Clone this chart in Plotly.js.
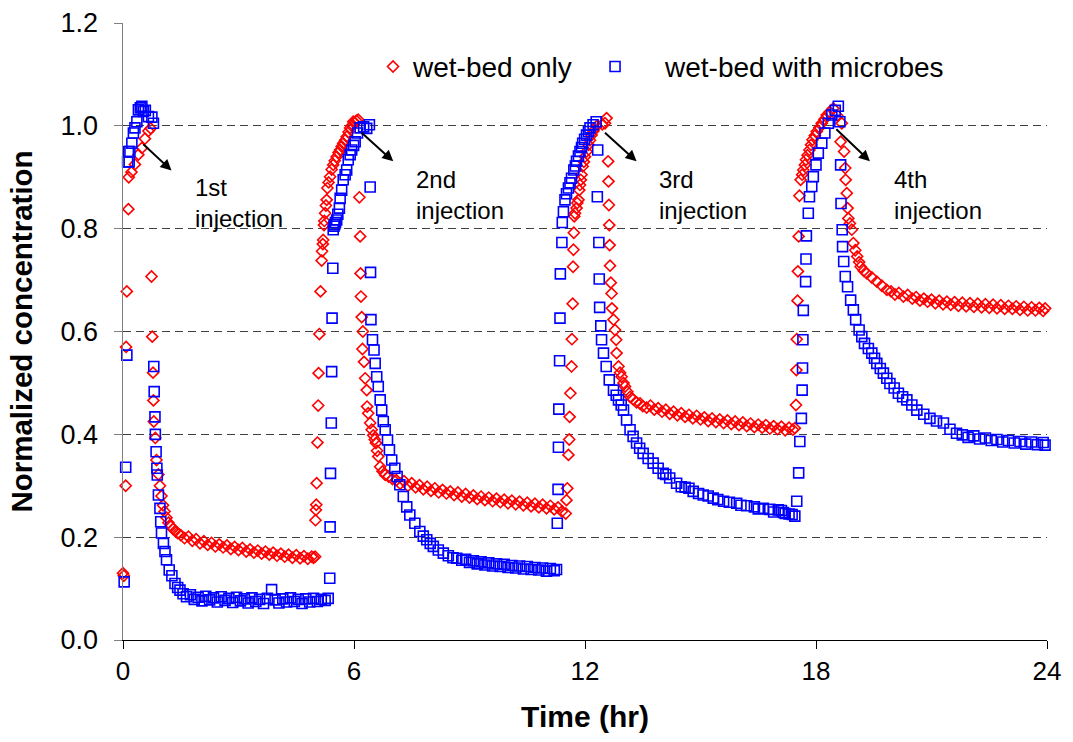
<!DOCTYPE html>
<html>
<head>
<meta charset="utf-8">
<script src="https://cdn.plot.ly/plotly-3.0.1.min.js"></script>
<style>
  html, body { margin: 0; padding: 0; background: #fff; }
  #chart { width: 1073px; height: 742px; }
</style>
</head>
<body>
<div id="chart"></div>
<script>
// ---------- DATA ----------
const seriesNames = ['wet-bed only', 'wet-bed with microbes'];

// wet-bed only (red open diamonds): time in hr
const wetBedTime = [
  0.00, 0.02, 0.07, 0.08, 0.10, 0.14, 0.15, 0.22, 0.31, 0.40, 0.49, 0.57, 0.66, 0.72,
  0.74, 0.76, 0.78, 0.79, 0.80, 0.84, 0.87, 0.92, 0.96, 1.00, 1.04, 1.08, 1.13, 1.18, 1.24, 1.30, 1.36, 1.42,
  1.5, 1.6, 1.7, 1.8, 1.9, 2.0, 2.1, 2.2, 2.3, 2.4, 2.5, 2.6, 2.7, 2.8, 2.9, 3.0, 3.1, 3.2, 3.3, 3.4, 3.5, 3.6, 3.7, 3.8, 3.9, 4.0, 4.1, 4.2, 4.3, 4.4, 4.5, 4.6, 4.7, 4.8, 4.9, 4.95,
  4.99, 5.00, 5.01, 5.02, 5.03, 5.05, 5.07, 5.08, 5.10, 5.13, 5.16, 5.17, 5.19, 5.20, 5.22, 5.23, 5.25, 5.27, 5.29, 5.31, 5.34, 5.38, 5.42, 5.46, 5.50, 5.55, 5.60, 5.64, 5.68, 5.72, 5.77, 5.81, 5.86, 5.90, 5.94, 5.98, 6.02, 6.06, 6.11,
  6.14, 6.16, 6.17, 6.18, 6.20, 6.22, 6.23, 6.26, 6.29, 6.33, 6.34, 6.37, 6.42, 6.46, 6.50, 6.54, 6.57, 6.60, 6.63, 6.68, 6.74, 6.81, 6.90, 7.00, 7.10,
  7.2, 7.3, 7.4, 7.5, 7.6, 7.7, 7.8, 7.9, 8.0, 8.1, 8.2, 8.3, 8.4, 8.5, 8.6, 8.7, 8.8, 8.9, 9.0, 9.1, 9.2, 9.3, 9.4, 9.5, 9.6, 9.7, 9.8, 9.9, 10.0, 10.1, 10.2, 10.3, 10.4, 10.5, 10.6, 10.7, 10.8, 10.9, 11.0, 11.1, 11.2, 11.3, 11.4, 11.5,
  11.52, 11.54, 11.57, 11.59, 11.60, 11.62, 11.65, 11.66, 11.68, 11.69, 11.70, 11.71, 11.72, 11.74, 11.78, 11.80, 11.83, 11.85, 11.87, 11.89, 11.91, 11.94, 11.97, 12.00, 12.04, 12.09, 12.13, 12.17, 12.22, 12.30, 12.45, 12.52, 12.56,
  12.60, 12.61, 12.62, 12.63, 12.64, 12.65, 12.67, 12.69, 12.70, 12.74, 12.78, 12.81, 12.82, 12.87, 12.91, 12.95, 13.00, 13.04, 13.10, 13.17, 13.25, 13.34, 13.43,
  13.5, 13.6, 13.7, 13.8, 13.9, 14.0, 14.1, 14.2, 14.3, 14.4, 14.5, 14.6, 14.7, 14.8, 14.9, 15.0, 15.1, 15.2, 15.3, 15.4, 15.5, 15.6, 15.7, 15.8, 15.9, 16.0, 16.1, 16.2, 16.3, 16.4, 16.5, 16.6, 16.7, 16.8, 16.9, 17.0, 17.1, 17.2, 17.3, 17.4, 17.45,
  17.48, 17.49, 17.50, 17.52, 17.53, 17.55, 17.57, 17.60, 17.64, 17.67, 17.71, 17.74, 17.78, 17.83, 17.87, 17.91, 17.97, 18.02, 18.09, 18.15, 18.22, 18.28, 18.36, 18.45,
  18.55, 18.64, 18.67, 18.73, 18.76, 18.77, 18.80, 18.82, 18.84, 18.88, 18.93, 18.97, 19.02, 19.07, 19.12, 19.16, 19.24, 19.32, 19.45, 19.58, 19.71, 19.84,
  19.95, 20.05, 20.15, 20.27, 20.38, 20.5, 20.6, 20.7, 20.8, 20.9, 21.0, 21.1, 21.2, 21.3, 21.4, 21.5, 21.6, 21.7, 21.8, 21.9, 22.0, 22.1, 22.2, 22.3, 22.4, 22.5, 22.6, 22.7, 22.8, 22.9, 23.0, 23.1, 23.2, 23.3, 23.4, 23.5, 23.6, 23.7, 23.8, 23.9, 23.95
];
// wet-bed only: normalized concentration
const wetBedConc = [
  0.130, 0.125, 0.300, 0.570, 0.678, 0.838, 0.900, 0.910, 0.925, 0.944, 0.957, 0.975, 0.990, 0.995,
  0.707, 0.590, 0.520, 0.466, 0.425, 0.393, 0.350, 0.322, 0.300, 0.280, 0.262, 0.250, 0.238, 0.228, 0.221, 0.216, 0.212, 0.208,
  0.204, 0.198, 0.201, 0.193, 0.196, 0.188, 0.192, 0.185, 0.189, 0.182, 0.186, 0.180, 0.184, 0.177, 0.181, 0.175, 0.179, 0.172, 0.176, 0.170, 0.174, 0.168, 0.172, 0.166, 0.170, 0.164, 0.168, 0.162, 0.166, 0.160, 0.165, 0.159, 0.163, 0.158, 0.162, 0.160,
  0.162, 0.233, 0.253, 0.263, 0.305, 0.384, 0.456, 0.519, 0.595, 0.678, 0.738, 0.756, 0.770, 0.778, 0.807, 0.815, 0.830, 0.845, 0.856, 0.879, 0.890, 0.901, 0.915, 0.924, 0.932, 0.940, 0.948, 0.953, 0.960, 0.966, 0.972, 0.979, 0.988, 0.996, 1.000, 1.008, 1.006, 1.010, 1.012,
  0.861, 0.785, 0.713, 0.668, 0.628, 0.566, 0.600, 0.541, 0.509, 0.486, 0.454, 0.441, 0.422, 0.409, 0.398, 0.390, 0.383, 0.368, 0.357, 0.337, 0.328, 0.321, 0.318, 0.313, 0.311,
  0.304, 0.309, 0.300, 0.305, 0.297, 0.301, 0.293, 0.298, 0.290, 0.295, 0.287, 0.292, 0.285, 0.289, 0.282, 0.287, 0.279, 0.284, 0.277, 0.281, 0.274, 0.279, 0.272, 0.277, 0.270, 0.275, 0.268, 0.273, 0.266, 0.271, 0.264, 0.269, 0.262, 0.267, 0.260, 0.265, 0.258, 0.263, 0.256, 0.261, 0.254, 0.258, 0.250, 0.246,
  0.272, 0.295, 0.360, 0.390, 0.434, 0.480, 0.532, 0.585, 0.654, 0.726, 0.759, 0.792, 0.824, 0.830, 0.840, 0.850, 0.856, 0.875, 0.885, 0.895, 0.905, 0.921, 0.930, 0.940, 0.950, 0.963, 0.972, 0.982, 0.990, 0.999, 1.003, 1.005, 1.015,
  0.931, 0.892, 0.846, 0.807, 0.768, 0.728, 0.695, 0.674, 0.645, 0.623, 0.603, 0.584, 0.558, 0.532, 0.520, 0.512, 0.500, 0.493, 0.483, 0.473, 0.468, 0.462, 0.460,
  0.455, 0.452, 0.456, 0.448, 0.451, 0.444, 0.448, 0.440, 0.444, 0.437, 0.441, 0.434, 0.438, 0.431, 0.436, 0.429, 0.433, 0.426, 0.431, 0.424, 0.429, 0.422, 0.427, 0.420, 0.425, 0.418, 0.423, 0.416, 0.421, 0.414, 0.419, 0.413, 0.418, 0.411, 0.416, 0.410, 0.415, 0.408, 0.413, 0.409, 0.412,
  0.457, 0.525, 0.585, 0.660, 0.717, 0.785, 0.864, 0.895, 0.905, 0.914, 0.924, 0.934, 0.943, 0.953, 0.963, 0.973, 0.981, 0.989, 0.997, 1.005, 1.013, 1.021, 1.027, 1.034,
  1.020, 0.969, 1.005, 0.950, 0.918, 0.895, 0.869, 0.840, 0.820, 0.810, 0.798, 0.772, 0.758, 0.746, 0.735, 0.726, 0.718, 0.713, 0.705, 0.697, 0.689, 0.681,
  0.678, 0.672, 0.675, 0.668, 0.671, 0.664, 0.667, 0.660, 0.664, 0.658, 0.662, 0.655, 0.660, 0.653, 0.658, 0.652, 0.657, 0.650, 0.656, 0.649, 0.655, 0.648, 0.654, 0.647, 0.653, 0.646, 0.652, 0.645, 0.651, 0.644, 0.650, 0.644, 0.649, 0.642, 0.648, 0.641, 0.647, 0.641, 0.646, 0.640, 0.645
];

// wet-bed with microbes (blue open squares): time in hr
const microbesTime = [
  0.03, 0.07, 0.10, 0.12, 0.14, 0.16, 0.18, 0.23, 0.27, 0.31, 0.36, 0.40, 0.45, 0.49, 0.53, 0.58, 0.66, 0.75, 0.79,
  0.80, 0.81, 0.83, 0.84, 0.86, 0.88, 0.89, 0.92, 0.96, 0.98, 1.00, 1.05, 1.09, 1.13, 1.20, 1.27, 1.35, 1.42, 1.48, 1.56, 1.65,
  1.75, 1.85, 1.95, 2.05, 2.15, 2.25, 2.35, 2.45, 2.55, 2.65, 2.75, 2.85, 2.95, 3.05, 3.15, 3.25, 3.35, 3.45, 3.55, 3.65, 3.75, 3.86, 3.95, 4.05, 4.15, 4.25, 4.35, 4.45, 4.55, 4.65, 4.75, 4.85, 4.95, 5.05, 5.15, 5.25, 5.33,
  5.37, 5.38, 5.39, 5.41, 5.42, 5.43, 5.45, 5.46, 5.48, 5.50, 5.52, 5.55, 5.58, 5.62, 5.64, 5.68, 5.72, 5.77, 5.81, 5.85, 5.90, 5.94, 5.99, 6.03, 6.09, 6.16, 6.25, 6.33, 6.40,
  6.42, 6.43, 6.44, 6.48, 6.52, 6.55, 6.59, 6.63, 6.68, 6.72, 6.76, 6.81, 6.87, 6.92, 6.98, 7.06, 7.12, 7.19, 7.28, 7.37, 7.45, 7.58, 7.71, 7.80, 7.89, 7.98, 8.06, 8.19, 8.32, 8.45, 8.57, 8.67, 8.80, 8.90,
  9.0, 9.1, 9.2, 9.3, 9.4, 9.5, 9.6, 9.7, 9.8, 9.9, 10.0, 10.1, 10.2, 10.3, 10.4, 10.5, 10.6, 10.7, 10.8, 10.9, 11.0, 11.1, 11.2, 11.26,
  11.28, 11.30, 11.31, 11.32, 11.34, 11.35, 11.36, 11.40, 11.41, 11.44, 11.48, 11.52, 11.57, 11.61, 11.65, 11.71, 11.75, 11.78, 11.83, 11.87, 11.91, 11.94, 11.99, 12.04, 12.09, 12.13, 12.21, 12.29,
  12.32, 12.33, 12.36, 12.37, 12.38, 12.41, 12.43, 12.48, 12.55, 12.63, 12.74, 12.81, 12.87, 12.94, 13.00, 13.08, 13.17, 13.25, 13.34, 13.42, 13.51, 13.64, 13.77, 13.90, 14.03, 14.10, 14.20, 14.38, 14.50, 14.60, 14.70, 14.81, 14.95, 15.07, 15.20, 15.33, 15.45, 15.60, 15.75, 15.94, 16.05, 16.20, 16.40, 16.50, 16.63, 16.80, 16.90, 17.02, 17.10, 17.15, 17.20, 17.30, 17.38, 17.45,
  17.50, 17.55, 17.58, 17.62, 17.64, 17.65, 17.66, 17.67, 17.73, 17.74, 17.75, 17.80, 17.83, 17.89, 17.93, 18.00, 18.06, 18.15, 18.23, 18.32, 18.41, 18.50, 18.58, 18.62,
  18.64, 18.65, 18.68, 18.69, 18.72, 18.76, 18.82, 18.90, 18.97, 19.03, 19.12, 19.19, 19.26, 19.36, 19.45, 19.52, 19.58, 19.67, 19.75, 19.84, 19.92, 20.03, 20.14, 20.25, 20.36, 20.49, 20.62, 20.80, 20.96, 21.13, 21.31, 21.48, 21.65, 21.80, 21.95, 22.10, 22.25, 22.40, 22.55, 22.70, 22.85, 23.00, 23.15, 23.30, 23.45, 23.60, 23.75, 23.90, 23.95
];
// wet-bed with microbes: normalized concentration
const microbesConc = [
  0.113, 0.336, 0.554, 0.930, 0.950, 0.930, 0.950, 0.966, 0.986, 0.996, 1.008, 1.031, 1.035, 1.038, 1.028, 1.030, 1.018, 1.017, 1.005,
  0.532, 0.483, 0.434, 0.400, 0.366, 0.334, 0.321, 0.282, 0.256, 0.230, 0.208, 0.188, 0.172, 0.156, 0.136, 0.125, 0.110, 0.102, 0.097, 0.090, 0.084,
  0.088, 0.079, 0.083, 0.076, 0.085, 0.078, 0.082, 0.074, 0.084, 0.077, 0.081, 0.073, 0.083, 0.076, 0.080, 0.072, 0.082, 0.075, 0.079, 0.071, 0.081, 0.098, 0.078, 0.072, 0.080, 0.074, 0.082, 0.075, 0.079, 0.071, 0.080, 0.074, 0.081, 0.075, 0.079, 0.077, 0.081,
  0.120, 0.220, 0.324, 0.422, 0.522, 0.626, 0.723, 0.798, 0.805, 0.808, 0.812, 0.817, 0.828, 0.840, 0.859, 0.875, 0.895, 0.905, 0.914, 0.934, 0.944, 0.953, 0.962, 0.969, 0.986, 0.996, 0.998, 0.995, 1.002,
  0.881, 0.715, 0.623, 0.584, 0.564, 0.538, 0.512, 0.493, 0.467, 0.447, 0.425, 0.409, 0.389, 0.370, 0.350, 0.334, 0.318, 0.302, 0.279, 0.259, 0.243, 0.227, 0.211, 0.202, 0.195, 0.188, 0.182, 0.175, 0.169, 0.164, 0.160, 0.159, 0.155, 0.157,
  0.151, 0.154, 0.148, 0.152, 0.146, 0.150, 0.144, 0.148, 0.143, 0.147, 0.141, 0.145, 0.140, 0.144, 0.138, 0.143, 0.137, 0.141, 0.136, 0.140, 0.134, 0.139, 0.135, 0.137,
  0.227, 0.293, 0.375, 0.449, 0.543, 0.626, 0.712, 0.773, 0.812, 0.833, 0.856, 0.868, 0.879, 0.889, 0.898, 0.914, 0.922, 0.931, 0.941, 0.950, 0.958, 0.966, 0.974, 0.982, 0.989, 0.996, 1.002, 1.008,
  0.862, 0.953, 0.773, 0.702, 0.647, 0.611, 0.584, 0.558, 0.532, 0.506, 0.486, 0.476, 0.467, 0.457, 0.447, 0.428, 0.409, 0.396, 0.383, 0.373, 0.363, 0.353, 0.344, 0.334, 0.324, 0.322, 0.315, 0.305, 0.298, 0.297, 0.295, 0.289, 0.285, 0.282, 0.280, 0.276, 0.273, 0.270, 0.268, 0.266, 0.262, 0.261, 0.259, 0.255, 0.256, 0.254, 0.249, 0.253, 0.252, 0.248, 0.246, 0.245, 0.244, 0.241,
  0.270, 0.325, 0.386, 0.431, 0.486, 0.529, 0.584, 0.641, 0.697, 0.741, 0.786, 0.830, 0.862, 0.882, 0.901, 0.924, 0.947, 0.966, 0.986, 1.005, 1.021, 1.030, 1.038, 1.008,
  0.924, 0.849, 0.798, 0.765, 0.736, 0.707, 0.687, 0.661, 0.642, 0.623, 0.603, 0.590, 0.577, 0.567, 0.558, 0.548, 0.538, 0.528, 0.519, 0.509, 0.499, 0.490, 0.480, 0.473, 0.467, 0.457, 0.447, 0.439, 0.431, 0.426, 0.422, 0.410, 0.402, 0.399, 0.394, 0.397, 0.391, 0.393, 0.388, 0.390, 0.385, 0.388, 0.383, 0.386, 0.381, 0.385, 0.380, 0.384, 0.379
];

// axis ticks
const xTickVals = [0, 6, 12, 18, 24];
const xTickText = ['0', '6', '12', '18', '24'];
const yTickVals = [0, 0.2, 0.4, 0.6, 0.8, 1.0, 1.2];
const yTickText = ['0.0', '0.2', '0.4', '0.6', '0.8', '1.0', '1.2'];

// injection labels: text, arrow tail (t, c), arrow head (t, c), label left/middle (t, c)
const injectionLabels = ['1st<br>injection', '2nd<br>injection', '3rd<br>injection', '4th<br>injection'];
const arrowTailT = [0.49, 6.16, 12.48, 18.49];
const arrowTailC = [0.967, 0.989, 0.989, 0.996];
const arrowHeadT = [1.26, 7.02, 13.34, 19.40];
const arrowHeadC = [0.913, 0.931, 0.931, 0.931];
const labelT = [1.82, 7.55, 13.87, 19.97];
const labelC = [0.850, 0.866, 0.866, 0.866];

// ---------- CHART ----------
const FONT = 'Liberation Sans, Arial, Helvetica, sans-serif';

const traces = [
  {
    type: 'scatter', mode: 'markers', name: seriesNames[0],
    x: wetBedTime, y: wetBedConc, cliponaxis: false, legend: 'legend',
    marker: { symbol: 'diamond-open', size: 8.5, color: '#FF0000', line: { width: 1.6, color: '#FF0000' } }
  },
  {
    type: 'scatter', mode: 'markers', name: seriesNames[1],
    x: microbesTime, y: microbesConc, cliponaxis: false, legend: 'legend2',
    marker: { symbol: 'square-open', size: 10, color: '#0000FF', line: { width: 1.6, color: '#0000FF' } }
  }
];

const annotations = [];
for (let i = 0; i < injectionLabels.length; i++) {
  annotations.push({
    x: arrowHeadT[i], y: arrowHeadC[i], xref: 'x', yref: 'y',
    ax: arrowTailT[i], ay: arrowTailC[i], axref: 'x', ayref: 'y',
    text: '', showarrow: true, arrowhead: 2, arrowsize: 1.1, arrowwidth: 2, arrowcolor: '#000'
  });
  annotations.push({
    x: labelT[i], y: labelC[i], xref: 'x', yref: 'y',
    text: injectionLabels[i], showarrow: false, xanchor: 'left', yanchor: 'middle', align: 'left',
    font: { family: FONT, size: 24, color: '#000' }
  });
}

const layout = {
  width: 1073, height: 742,
  margin: { l: 123, r: 26, t: 23, b: 102, pad: 0 },
  paper_bgcolor: '#ffffff', plot_bgcolor: '#ffffff',
  font: { family: FONT, color: '#000', size: 26 },
  showlegend: true,
  legend: {
    x: 0.2706, xanchor: 'left', y: 0.929, yanchor: 'middle', orientation: 'h',
    bgcolor: 'rgba(0,0,0,0)', font: { family: FONT, size: 28, color: '#000' }, itemwidth: 30
  },
  legend2: {
    x: 0.4784, xanchor: 'left', y: 0.929, yanchor: 'middle', orientation: 'h',
    bgcolor: 'rgba(0,0,0,0)', font: { family: FONT, size: 28, color: '#000' }, itemwidth: 90
  },
  xaxis: {
    range: [0, 24], tickvals: xTickVals, ticktext: xTickText,
    ticks: 'outside', ticklen: 8, tickwidth: 1, tickcolor: '#000',
    showline: true, linecolor: '#000', linewidth: 1, mirror: false,
    showgrid: false, zeroline: false,
    tickfont: { family: FONT, size: 26, color: '#000' },
    title: { text: 'Time (hr)', font: { family: FONT, size: 30, color: '#000', weight: 'bold' }, standoff: 20 }
  },
  yaxis: {
    range: [0, 1.2], tickvals: yTickVals, ticktext: yTickText,
    ticks: 'outside', ticklen: 8, tickwidth: 1, tickcolor: '#808080',
    showline: true, linecolor: '#808080', linewidth: 1.5,
    showgrid: true, gridcolor: '#404040', gridwidth: 1, griddash: '8px,5px',
    zeroline: false, ticklabelstandoff: 10,
    tickfont: { family: FONT, size: 27, color: '#000' },
    title: { text: 'Normalized concentration', font: { family: FONT, size: 29.5, color: '#000', weight: 'bold' }, standoff: 19 }
  },
  annotations: annotations
};

Plotly.newPlot('chart', traces, layout, { staticPlot: true, displayModeBar: false });
</script>
</body>
</html>
